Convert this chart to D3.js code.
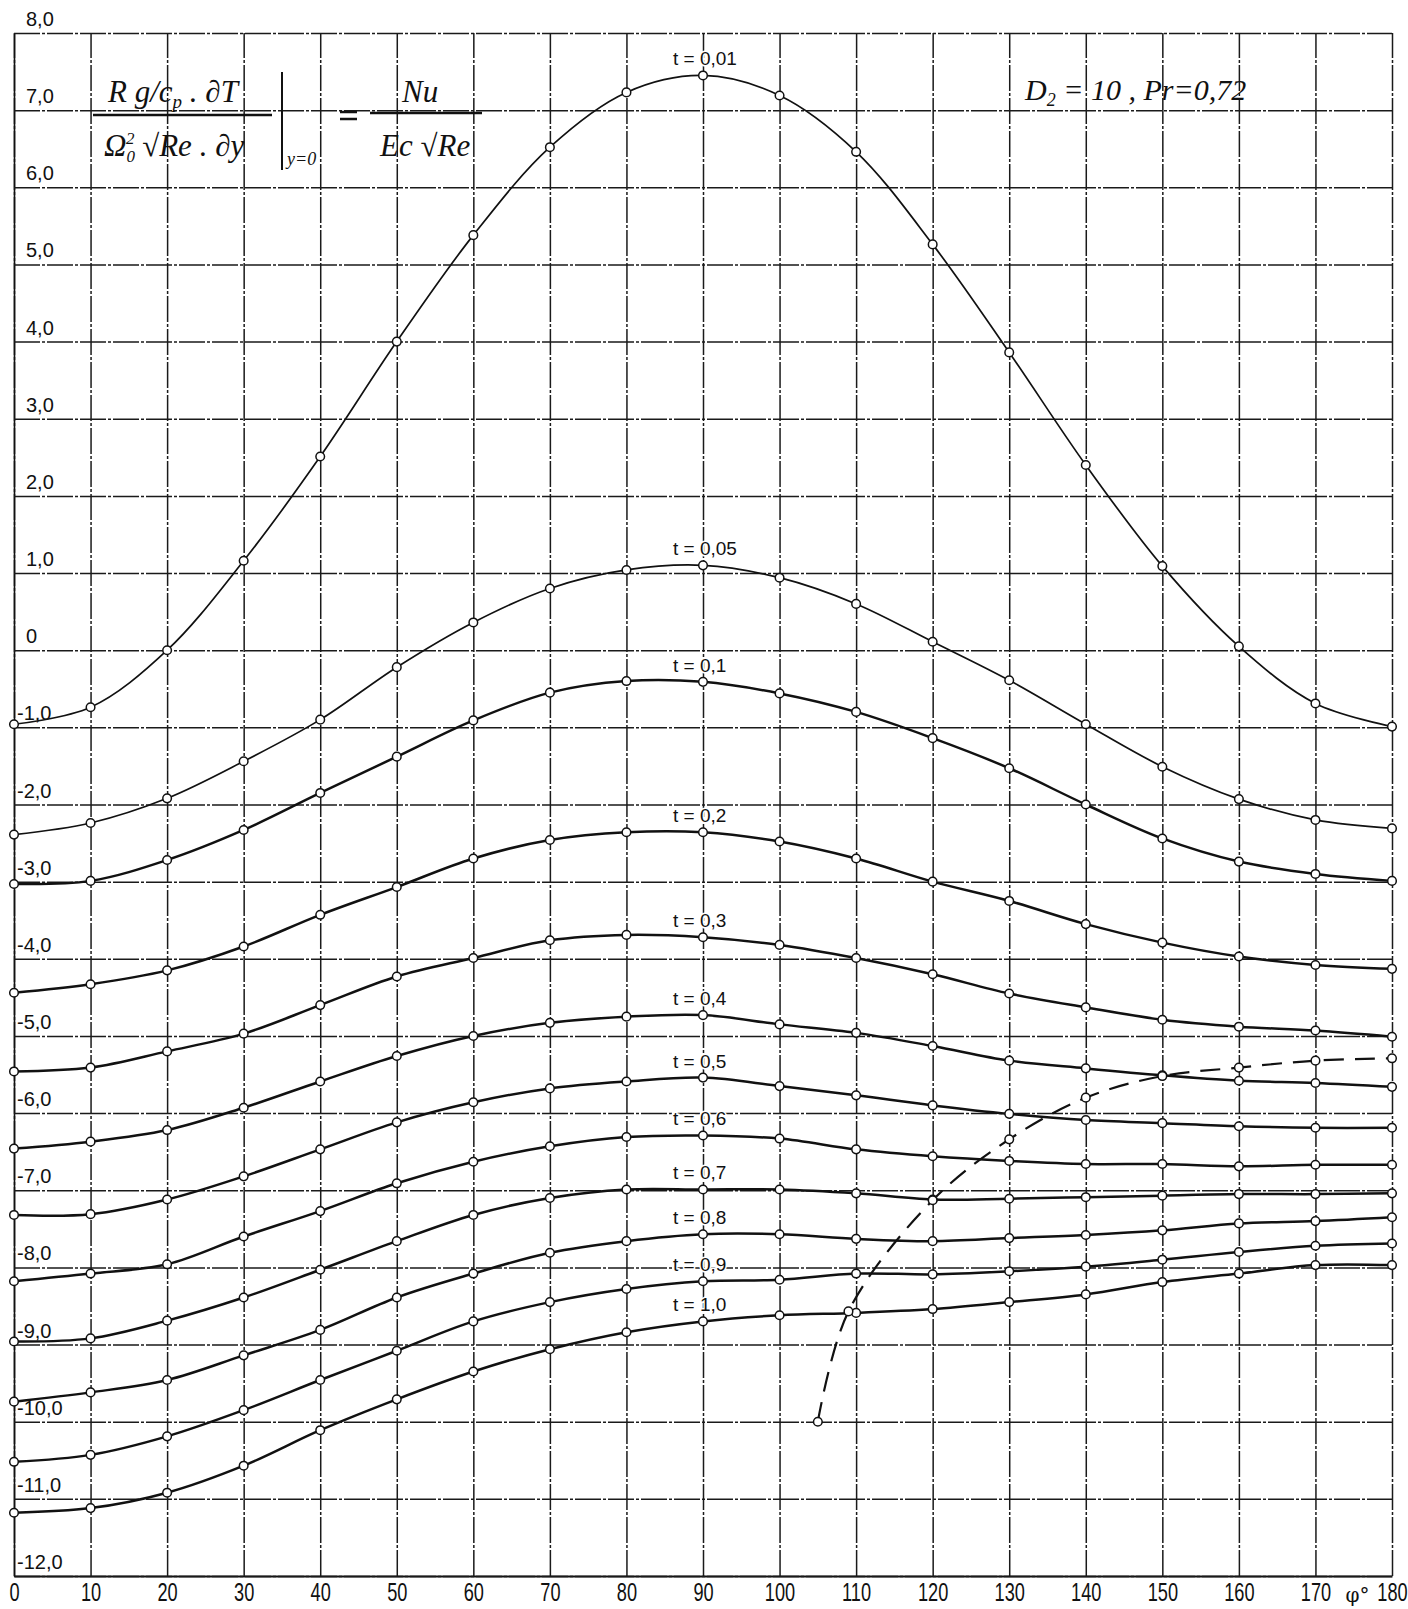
<!DOCTYPE html>
<html>
<head>
<meta charset="utf-8">
<script src="https://cdn.jsdelivr.net/npm/d3@7"></script>
<style>
  body { margin: 0; background: #fff; }
  svg { display: block; }
</style>
</head>
<body>
<div id="chart"></div>
<script>
// Data (x in degrees, one value per 10 degrees)
const xValues = [0, 10, 20, 30, 40, 50, 60, 70, 80, 90, 100, 110, 120, 130, 140, 150, 160, 170, 180];

const t001 = [-0.96, -0.74, 0.00, 1.16, 2.51, 4.00, 5.38, 6.52, 7.23, 7.45, 7.19, 6.46, 5.26, 3.86, 2.40, 1.09, 0.05, -0.69, -0.99];
const t005 = [-2.39, -2.24, -1.92, -1.44, -0.90, -0.22, 0.36, 0.80, 1.04, 1.10, 0.94, 0.60, 0.11, -0.39, -0.96, -1.51, -1.93, -2.20, -2.31];
const t01  = [-3.03, -2.99, -2.72, -2.33, -1.85, -1.38, -0.91, -0.55, -0.40, -0.41, -0.56, -0.80, -1.14, -1.53, -2.00, -2.44, -2.74, -2.90, -2.99];
const t02  = [-4.44, -4.33, -4.15, -3.84, -3.43, -3.07, -2.70, -2.46, -2.36, -2.36, -2.48, -2.70, -3.00, -3.25, -3.55, -3.79, -3.97, -4.08, -4.13];
const t03  = [-5.46, -5.41, -5.20, -4.97, -4.60, -4.23, -3.99, -3.76, -3.69, -3.72, -3.82, -3.99, -4.20, -4.45, -4.63, -4.79, -4.88, -4.93, -5.01];
const t04  = [-6.46, -6.37, -6.22, -5.93, -5.59, -5.26, -5.00, -4.83, -4.75, -4.73, -4.85, -4.96, -5.13, -5.32, -5.42, -5.51, -5.58, -5.61, -5.66];
const t05  = [-7.32, -7.31, -7.12, -6.82, -6.47, -6.12, -5.86, -5.68, -5.59, -5.54, -5.65, -5.77, -5.90, -6.01, -6.09, -6.13, -6.17, -6.19, -6.19];
const t06  = [-8.18, -8.08, -7.96, -7.60, -7.27, -6.91, -6.63, -6.43, -6.31, -6.29, -6.33, -6.47, -6.56, -6.62, -6.66, -6.66, -6.69, -6.67, -6.67];
const t07  = [-8.96, -8.92, -8.69, -8.39, -8.03, -7.66, -7.32, -7.10, -6.99, -6.99, -6.99, -7.04, -7.12, -7.11, -7.09, -7.07, -7.05, -7.05, -7.04];
const t08  = [-9.74, -9.62, -9.46, -9.14, -8.81, -8.39, -8.08, -7.81, -7.66, -7.57, -7.57, -7.63, -7.66, -7.62, -7.58, -7.52, -7.43, -7.40, -7.35];
const t09  = [-10.52, -10.43, -10.19, -9.85, -9.46, -9.08, -8.70, -8.45, -8.28, -8.18, -8.16, -8.08, -8.09, -8.05, -7.99, -7.90, -7.80, -7.72, -7.69];
const t10  = [-11.18, -11.12, -10.92, -10.57, -10.11, -9.71, -9.35, -9.06, -8.84, -8.70, -8.62, -8.59, -8.54, -8.45, -8.35, -8.19, -8.08, -7.97, -7.97];

const seriesLabels = ['t = 0,01', 't = 0,05', 't = 0,1', 't = 0,2', 't = 0,3', 't = 0,4',
                      't = 0,5', 't = 0,6', 't = 0,7', 't = 0,8', 't = 0,9', 't = 1,0'];
const seriesValues = [t001, t005, t01, t02, t03, t04, t05, t06, t07, t08, t09, t10];

// dashed boundary curve
const dashX = [105, 109, 120, 130, 140, 150, 160, 170, 180];
const dashY = [-10.0, -8.57, -7.13, -6.34, -5.80, -5.52, -5.41, -5.32, -5.29];

// ticks
const xTickValues = [0, 10, 20, 30, 40, 50, 60, 70, 80, 90, 100, 110, 120, 130, 140, 150, 160, 170, 180];
const xTickLabels = ['0', '10', '20', '30', '40', '50', '60', '70', '80', '90', '100', '110', '120', '130', '140', '150', '160', '170', '180'];
const yTickValues = [8, 7, 6, 5, 4, 3, 2, 1, 0, -1, -2, -3, -4, -5, -6, -7, -8, -9, -10, -11, -12];
const yTickLabels = ['8,0', '7,0', '6,0', '5,0', '4,0', '3,0', '2,0', '1,0', '0', '-1,0', '-2,0', '-3,0', '-4,0',
                     '-5,0', '-6,0', '-7,0', '-8,0', '-9,0', '-10,0', '-11,0', '-12,0'];
const xTitle = 'φ°';

const width = 1408, height = 1609;
const plotLeft = 14, plotRight = 1392, plotTop = 33, plotBottom = 1576;
const ink = '#111';
const gridDash = '26,2,3,2';

const x = d3.scaleLinear().domain([0, 180]).range([plotLeft, plotRight]);
const y = d3.scaleLinear().domain([-12, 8]).range([plotBottom, plotTop]);

const svg = d3.select('#chart').append('svg')
    .attr('width', width)
    .attr('height', height)
    .style('background', '#fff');

// vertical grid + x labels
svg.append('g')
    .attr('transform', 'translate(0,' + plotBottom + ')')
    .call(d3.axisBottom(x)
        .tickValues(xTickValues)
        .tickSize(-(plotBottom - plotTop))
        .tickSizeOuter(0)
        .tickPadding(7)
        .tickFormat((d, i) => xTickLabels[i]))
    .call(g => g.attr('font-family', '"Liberation Sans", Arial, sans-serif').attr('font-size', 26))
    .call(g => g.select('.domain').attr('stroke', ink).attr('stroke-width', 2))
    .call(g => g.selectAll('.tick line')
        .attr('stroke', '#1a1a1a')
        .attr('stroke-width', 1.5)
        .attr('stroke-dasharray', gridDash))
    .call(g => g.selectAll('.tick text')
        .attr('fill', ink)
        .attr('transform', 'scale(0.7,1)'));

// horizontal grid
svg.append('g')
    .attr('transform', 'translate(' + plotLeft + ',0)')
    .call(d3.axisLeft(y)
        .tickValues(yTickValues)
        .tickSize(-(plotRight - plotLeft))
        .tickSizeOuter(0)
        .tickFormat(''))
    .call(g => g.select('.domain').attr('stroke', ink).attr('stroke-width', 1.6))
    .call(g => g.selectAll('.tick line')
        .attr('stroke', '#1a1a1a')
        .attr('stroke-width', 1.5)
        .attr('stroke-dasharray', gridDash));

// y labels sit inside the grid, just above each line
svg.append('g')
    .attr('font-family', '"Liberation Sans", Arial, sans-serif')
    .attr('font-size', 20)
    .attr('fill', ink)
    .selectAll('text')
    .data(yTickValues)
    .enter().append('text')
    .attr('x', (d, i) => yTickLabels[i].startsWith('-') ? 17 : 26)
    .attr('y', d => y(d) - 7)
    .text((d, i) => yTickLabels[i]);

// axis variable between 170 and 180
svg.append('text')
    .attr('x', x(175.5))
    .attr('y', plotBottom + 26)
    .attr('text-anchor', 'middle')
    .attr('font-family', '"DejaVu Serif", serif')
    .attr('font-size', 20)
    .attr('fill', ink)
    .text(xTitle);

// curves
const line = d3.line()
    .x((d, i) => x(xValues[i]))
    .y(d => y(d))
    .curve(d3.curveCatmullRom.alpha(0.5));

const series = seriesLabels.map((name, k) => ({ name: name, values: seriesValues[k] }));

svg.append('g').selectAll('path')
    .data(series)
    .enter().append('path')
    .attr('fill', 'none')
    .attr('stroke', ink)
    .attr('stroke-width', (d, k) => k < 2 ? 1.7 : 2.5)
    .attr('d', d => line(d.values));

// dashed curve
const dashLine = d3.line()
    .x((d, i) => x(dashX[i]))
    .y(d => y(d))
    .curve(d3.curveCatmullRom.alpha(0.5));

svg.append('path')
    .datum(dashY)
    .attr('fill', 'none')
    .attr('stroke', ink)
    .attr('stroke-width', 2.2)
    .attr('stroke-dasharray', '20,11')
    .attr('d', dashLine);

// point markers
series.forEach(s => {
    svg.append('g').selectAll('circle')
        .data(s.values)
        .enter().append('circle')
        .attr('cx', (d, i) => x(xValues[i]))
        .attr('cy', d => y(d))
        .attr('r', 4.3)
        .attr('fill', '#fff')
        .attr('stroke', ink)
        .attr('stroke-width', 1.5);
});

svg.append('g').selectAll('circle')
    .data(dashY)
    .enter().append('circle')
    .attr('cx', (d, i) => x(dashX[i]))
    .attr('cy', d => y(d))
    .attr('r', 4.3)
    .attr('fill', '#fff')
    .attr('stroke', ink)
    .attr('stroke-width', 1.5);

// series labels, above each curve at x = 90
svg.append('g')
    .attr('font-family', '"Liberation Sans", Arial, sans-serif')
    .attr('font-size', 19)
    .attr('fill', ink)
    .selectAll('text')
    .data(series)
    .enter().append('text')
    .attr('x', x(90) - 30)
    .attr('y', d => y(d.values[9]) - 10)
    .style('paint-order', 'stroke')
    .attr('stroke', '#fff')
    .attr('stroke-width', 3)
    .text(d => d.name);

// formula, top left
const f = svg.append('g')
    .attr('font-family', '"Liberation Serif", "DejaVu Serif", serif')
    .attr('font-style', 'italic')
    .attr('font-size', 31)
    .attr('fill', ink);

const num = f.append('text').attr('x', 108).attr('y', 102);
num.append('tspan').text('R g/c');
num.append('tspan').attr('font-size', 19).attr('dy', 6).text('p');
num.append('tspan').attr('dy', -6).text(' . ∂T');

f.append('line').attr('x1', 93).attr('x2', 272).attr('y1', 115).attr('y2', 115)
    .attr('stroke', ink).attr('stroke-width', 2.5);

const den = f.append('text').attr('x', 104).attr('y', 156);
den.append('tspan').text('Ω');
den.append('tspan').attr('font-size', 17).attr('dy', 6).text('0');
den.append('tspan').attr('font-size', 17).attr('dx', -9).attr('dy', -18).text('2');
den.append('tspan').attr('dy', 12).text(' √Re . ∂y');

f.append('line').attr('x1', 282).attr('x2', 282).attr('y1', 72).attr('y2', 170)
    .attr('stroke', ink).attr('stroke-width', 2);
f.append('text').attr('x', 287).attr('y', 165).attr('font-size', 18).text('y=0');

// equals sign drawn as two short strokes
f.append('line').attr('x1', 340).attr('x2', 357).attr('y1', 112).attr('y2', 112)
    .attr('stroke', ink).attr('stroke-width', 2.5);
f.append('line').attr('x1', 340).attr('x2', 357).attr('y1', 119).attr('y2', 119)
    .attr('stroke', ink).attr('stroke-width', 2.5);

f.append('text').attr('x', 402).attr('y', 102).text('Nu');
f.append('line').attr('x1', 370).attr('x2', 482).attr('y1', 113).attr('y2', 113)
    .attr('stroke', ink).attr('stroke-width', 2.5);
f.append('text').attr('x', 380).attr('y', 156).text('Ec √Re');

// parameters, top right
const p = svg.append('text')
    .attr('x', 1025)
    .attr('y', 100)
    .attr('font-family', '"Liberation Serif", "DejaVu Serif", serif')
    .attr('font-style', 'italic')
    .attr('font-size', 30)
    .attr('fill', ink);
p.append('tspan').text('D');
p.append('tspan').attr('font-size', 18).attr('dy', 6).text('2');
p.append('tspan').attr('dy', -6).text(' = 10 ,   Pr=0,72');
</script>
</body>
</html>
